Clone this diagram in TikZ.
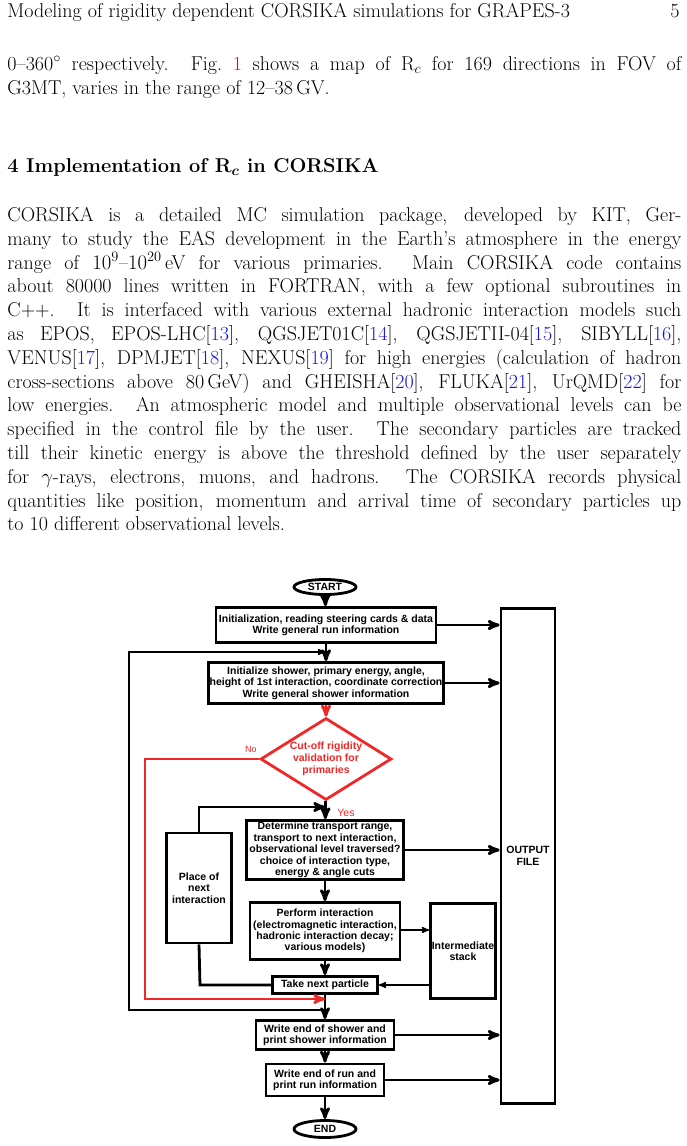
\documentclass[tikz,border=0pt]{standalone}
\usepackage{fontspec}
\usepackage{amsmath}
\usepackage{tikz}
\usetikzlibrary{arrows,shapes}
\newfontfamily\chartfont{Liberation Sans}
\definecolor{cut_red}{RGB}{240,40,40}
\definecolor{cite_blue}{RGB}{20,20,230}
\newcommand{\cit}[1]{[\textcolor{cite_blue}{#1}]}

\begin{document}
\begin{tikzpicture}[x=1pt,y=-1pt,->,>=stealth',line width=2.8pt]
    \tikzstyle{body}=[anchor=north west, inner sep=0pt, text width=674pt, align=justify, font=\fontsize{20}{23.8}\selectfont]
    \tikzstyle{stepbox}=[draw, rectangle, line width=2.8pt, inner sep=1pt, align=center, font=\chartfont\bfseries\fontsize{10.5}{11.4}\selectfont]
    \tikzstyle{term}=[draw, ellipse, line width=2.8pt, inner sep=0pt, minimum width=62pt, minimum height=15pt, font=\chartfont\bfseries\fontsize{10.5}{11}\selectfont]
    \tikzstyle{check}=[draw=cut_red, diamond, aspect=1.6, line width=2.8pt, inner sep=0pt, minimum width=131pt, minimum height=82pt, text=cut_red, align=center, font=\chartfont\bfseries\fontsize{10.5}{11.8}\selectfont]
    \tikzstyle{thin}=[line width=1.5pt]

    \useasboundingbox (0,0) rectangle (687,1146);

    % page text
    \node[anchor=base west, inner sep=0pt, font=\fontsize{20}{23.8}\selectfont] (head) at (6,17) {Modeling of rigidity dependent CORSIKA simulations for GRAPES-3};
    \node[anchor=base east, inner sep=0pt, font=\fontsize{20}{23.8}\selectfont] (page) at (681,17) {5};
    \node[body] (par1) at (6,55) {0--360$^\circ$ respectively. Fig.~\textcolor{red}{1} shows a map of R$_c$ for 169 directions in FOV of\linebreak G3MT, varies in the range of 12--38\,GV.};
    \node[anchor=base west, inner sep=0pt, font=\fontsize{20}{23.8}\selectfont\bfseries] (sec) at (6,172) {4 Implementation of R$_{\boldsymbol{c}}$ in CORSIKA};
    \node[body] (par2) at (6,206) {CORSIKA is a detailed MC simulation package, developed by KIT, Ger-\linebreak many to study the EAS development in the Earth's atmosphere in the energy\linebreak range of $10^9$--$10^{20}$\,eV for various primaries. Main CORSIKA code contains\linebreak about 80000 lines written in FORTRAN, with a few optional subroutines in\linebreak C++. It is interfaced with various external hadronic interaction models such\linebreak as EPOS, EPOS-LHC\cit{13}, QGSJET01C\cit{14}, QGSJETII-04\cit{15}, SIBYLL\cit{16},\linebreak VENUS\cit{17}, DPMJET\cit{18}, NEXUS\cit{19} for high energies (calculation of hadron\linebreak cross-sections above 80\,GeV) and GHEISHA\cit{20}, FLUKA\cit{21}, UrQMD\cit{22} for\linebreak low energies. An atmospheric model and multiple observational levels can be\linebreak specified in the control file by the user. The secondary particles are tracked\linebreak till their kinetic energy is above the threshold defined by the user separately\linebreak for $\gamma$-rays, electrons, muons, and hadrons. The CORSIKA records physical\linebreak quantities like position, momentum and arrival time of secondary particles up\linebreak to 10 different observational levels.};

    % flowchart
    \node[term] (start) at (325,587) {START};
    \node[stepbox, minimum width=220pt, minimum height=35pt] (init) at (326,625) {Initialization, reading steering cards \& data\\Write general run information};
    \node[stepbox, minimum width=231pt, minimum height=41pt] (shower) at (326,683) {Initialize shower, primary energy, angle,\\height of 1st interaction, coordinate correction\\Write general shower information};
    \node[check] (cut) at (326,759) {Cut-off rigidity\\validation for\\primaries};
    \node[stepbox, minimum width=157pt, minimum height=59pt] (trans) at (325,850) {Determine transport range,\\transport to next interaction,\\observational level traversed?\\choice of interaction type,\\energy \& angle cuts};
    \node[stepbox, minimum width=65pt, minimum height=110pt] (place) at (199,888) {Place of\\next\\interaction};
    \node[stepbox, minimum width=150pt, minimum height=57pt] (perform) at (325,931) {Perform interaction\\(electromagnetic interaction,\\hadronic interaction decay;\\various models)};
    \node[stepbox, minimum width=65pt, minimum height=95pt] (stack) at (463,951) {Intermediate\\stack};
    \node[stepbox, minimum width=105pt, minimum height=17pt] (take) at (325,985) {Take next particle};
    \node[stepbox, minimum width=138pt, minimum height=29pt] (endshower) at (325,1035) {Write end of shower and\\print shower information};
    \node[stepbox, minimum width=118pt, minimum height=32pt] (endrun) at (325,1080) {Write end of run and\\print run information};
    \node[term, minimum height=17pt] (end) at (325,1129) {END};
    \node[stepbox, minimum width=54pt, minimum height=495pt] (out) at (528,856) {OUTPUT\\FILE};
    \node[text=cut_red, font=\chartfont\fontsize{9}{10}\selectfont] (no) at (251,749) {No};
    \node[text=cut_red, font=\chartfont\fontsize{10.5}{11}\selectfont] (yes) at (346,813) {Yes};

    \coordinate (loopin) at (325,652);
    \coordinate (yesin) at (325,807);
    \coordinate (noin) at (325,999);
    \coordinate (loopout) at (325,1010);

    \draw (start) -- (init);
    \draw (init) -- (shower);
    \draw[cut_red] (shower) -- (cut);
    \draw (cut) -- (trans);
    \draw (trans) -- (perform);
    \draw (perform) -- (take);
    \draw (take) -- (endshower);
    \draw (endshower) -- (endrun);
    \draw (endrun) -- (end);
    \draw[-] (loopout) -- (129,1010) -- (129,652) -- (loopin);
    \draw[thin] (129,652) -- (loopin);
    \draw[cut_red] (cut.west) -- (145,759) -- (145,999) -- (noin);
    \draw[-] (take.west) -- (200,985) -- (place.south);
    \draw (place.north) -- (199,807) -- (yesin);
    \draw[thin] (perform.east |- 0,930) -- (stack.west |- 0,930);
    \draw[thin] (stack.west |- take) -- (take.east);
    \draw (init.east) -- (out.west |- init);
    \draw (shower.east) -- (out.west |- shower);
    \draw (trans.east) -- (out.west |- trans);
    \draw (endshower.east) -- (out.west |- endshower);
    \draw (endrun.east) -- (out.west |- endrun);
\end{tikzpicture}
\end{document}
